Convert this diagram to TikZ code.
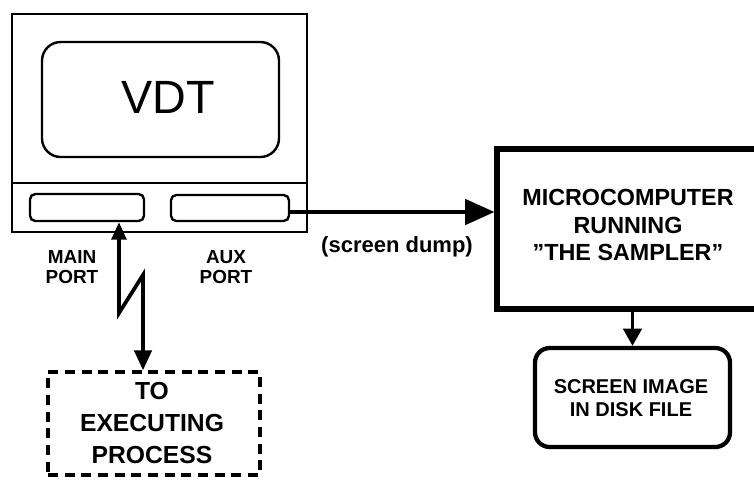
\documentclass[tikz,border=0pt]{standalone}
\usepackage{fontspec}
\setmainfont{Liberation Sans}
\usetikzlibrary{fit,arrows.meta}
\begin{document}
\begin{tikzpicture}[x=0.75pt,y=-0.75pt,
  thinbox/.style={draw,line width=1.8pt,inner sep=0pt},
  portbox/.style={draw,line width=1.8pt,inner sep=0pt,rounded corners=4pt},
  heavybox/.style={draw,line width=3.8pt,inner sep=0pt},
  diskbox/.style={draw,line width=3.2pt,inner sep=0pt,rounded corners=11pt},
  execbox/.style={draw,line width=2.6pt,dash pattern=on 7.5pt off 5pt,inner sep=0pt},
  lbl/.style={align=center,inner sep=0pt},
  conn/.style={line width=2.8pt}
]
\useasboundingbox (0,0) rectangle (754,480);
% monitor
\node[thinbox,fit={(12,14)(307,232)}] (mon) {};
\draw[line width=1.8pt] (mon.west |- 0,183) -- (mon.east |- 0,183);
\node[thinbox,rounded corners=14pt,fit={(42,42)(279,157)}] (scr) {};
\node[lbl,font=\fontsize{35}{40}\selectfont] (vdt) at (168,97) {VDT};
\node[portbox,fit={(30,194)(144,221)}] (mainp) {};
\node[portbox,fit={(171,195)(289,221)}] (auxp) {};
\node[lbl,font=\fontsize{14.2}{15}\bfseries\selectfont] (mainl) at (72,267) {MAIN\\PORT};
\node[lbl,font=\fontsize{14.2}{15}\bfseries\selectfont] (auxl) at (226,267) {AUX\\PORT};
% microcomputer
\node[heavybox,fit={(497,149)(775,309)}] (micro) {};
\node[lbl,font=\fontsize{17.5}{20.5}\bfseries\selectfont] (microt) at (628,225) {MICROCOMPUTER\\RUNNING\\\symbol{34}THE SAMPLER\symbol{34}};
% disk file
\node[diskbox,fit={(535,348)(730,447)}] (disk) {};
\node[lbl,font=\fontsize{15}{17.5}\bfseries\selectfont] (diskt) at (631,398) {SCREEN IMAGE\\IN DISK FILE};
% executing process
\node[execbox,fit={(48,372)(260,475)}] (exec) {};
\node[lbl,font=\fontsize{18.5}{24}\bfseries\selectfont] (exect) at (152,423) {TO\\EXECUTING\\PROCESS};
% screen dump arrow
\draw[conn,-{Triangle[length=22pt,width=19pt]}] ([yshift=-3pt]auxp.east) -- ([yshift=-3pt]auxp.east -| micro.west);
\node[lbl,font=\fontsize{16.5}{20}\bfseries\selectfont] (dump) at (397,247) {(screen dump)};
% down arrow
\draw[line width=2.4pt,-{Triangle[length=13pt,width=14pt]}] (disk.north |- micro.south) -- (disk.north);
% zigzag connection
\coordinate (z1) at (119,313);
\coordinate (z2) at (143,275);
\draw[conn,line join=miter,{Triangle[length=13pt,width=11pt]}-{Triangle[length=15pt,width=13pt]}] (mainp.south -| z1) -- (z1) -- (z2) -- (z2 |- exec.north);
\end{tikzpicture}
\end{document}
